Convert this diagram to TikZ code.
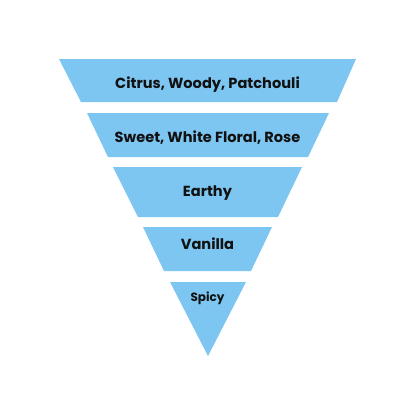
\documentclass[tikz,border=0pt]{standalone}
\usepackage{fontspec}
\setmainfont{Poppins}
\definecolor{band}{HTML}{7DC6F1}
\definecolor{txt}{HTML}{111111}
\tikzset{
  bandfill/.style={fill=band, draw=none},
  lbl/.style={font=\bfseries\fontsize{14.6}{16}\selectfont, text=txt, inner sep=0pt, anchor=base},
  lblsmall/.style={font=\bfseries\fontsize{12}{14}\selectfont, text=txt, inner sep=0pt, anchor=base}
}
\begin{document}
\begin{tikzpicture}[x=1pt,y=-1pt]
\useasboundingbox (0,0) rectangle (416,416);
\fill[white] (0,0) rectangle (416,416);
\path[bandfill] (59,59) -- (356,59) -- (337,102) -- (81,102) -- cycle;
\path[bandfill] (87,113) -- (329,113) -- (308,157) -- (108,157) -- cycle;
\path[bandfill] (113,167) -- (302,167) -- (278,217) -- (138,217) -- cycle;
\path[bandfill] (143,227) -- (272,227) -- (251,271) -- (164,271) -- cycle;
\path[bandfill] (170,282) -- (246,282) -- (208,356) -- cycle;
\node[lbl] (t1) at (207.5,88.5) {Citrus, Woody, Patchouli};
\node[lbl] (t2) at (207.5,142.5) {Sweet, White Floral, Rose};
\node[lbl] (t3) at (207.5,196.5) {Earthy};
\node[lbl] (t4) at (207.5,249.5) {Vanilla};
\node[lblsmall] (t5) at (207.5,301.5) {Spicy};
\end{tikzpicture}
\end{document}
